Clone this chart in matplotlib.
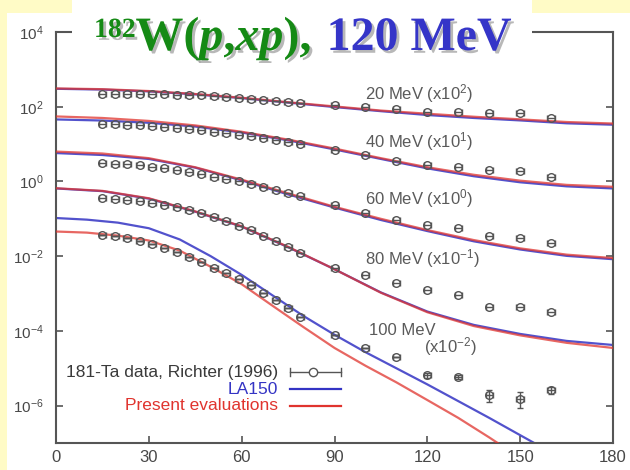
import numpy as np
import matplotlib
matplotlib.use("Agg")
import matplotlib.pyplot as plt
from matplotlib.patches import Rectangle
from matplotlib.ticker import NullLocator
import matplotlib.patheffects as pe

plt.rcParams['font.family'] = ['Liberation Sans', 'DejaVu Sans']
plt.rcParams['mathtext.default'] = 'regular'

# emission angles (deg)
ang_data = [15, 19, 23, 27, 31, 35, 39, 43, 47, 51, 55, 59, 63, 67, 71, 75, 79,
            90, 100, 110, 120, 130, 140, 150, 160]
ang_calc = [0, 15, 30, 45, 60, 75, 90, 105, 120, 135, 150, 165, 180]
ang_calc100 = [0, 10, 20, 30, 40, 50, 60, 70, 80, 90, 100, 110, 120, 130, 140, 150, 160]

# Richter data (already multiplied by the scale factors)
d20 = [224, 224, 219, 219, 214, 214, 209, 204, 200, 191, 182, 174, 162, 151, 141, 132, 126,
       110, 98, 85, 74, 71, 66, 69, 50]
d40 = [34.7, 33.9, 33.1, 31.6, 30.2, 28.8, 26.9, 25.1, 23.4, 21.4, 19.5, 17.8, 16.2, 14.5, 12.9, 11.5, 10.2,
       7.1, 5.2, 3.5, 2.8, 2.4, 2.0, 1.9, 1.35]
d60 = [3.16, 3.02, 2.88, 2.69, 2.51, 2.29, 2.04, 1.82, 1.58, 1.35, 1.17, 1.02, 0.87, 0.72, 0.59, 0.49, 0.40,
       0.24, 0.141, 0.095, 0.069, 0.056, 0.035, 0.030, 0.023]
d80 = [0.355, 0.339, 0.316, 0.295, 0.269, 0.240, 0.209, 0.174, 0.141, 0.112, 0.087, 0.066, 0.049, 0.035,
       0.025, 0.0174, 0.0120, 0.0047, 0.0032, 0.00186, 0.00126, 0.00093, 0.00045, 0.00045, 0.00032]
d100 = [0.037, 0.035, 0.030, 0.0257, 0.0214, 0.0166, 0.0126, 0.0093, 0.0068, 0.0049, 0.0035, 0.0025,
        0.00166, 0.00105, 0.00066, 0.0004, 0.00024, 7.9e-5, 3.4e-5, 2.0e-5, 6.6e-6, 5.9e-6, 1.95e-6,
        1.55e-6, 2.6e-6]
# relative y errors of the 100 MeV set (others are within the symbol)
rel100 = [0, 0, 0, 0, 0, 0, 0, 0, 0, 0, 0, 0, 0, 0, 0, 0, 0,
          0, 0, 0, 0.15, 0.1, 0.35, 0.45, 0.2]

# LA150 (blue) and present evaluation (red)
la20 = [302, 288, 257, 214, 170, 129, 98, 76, 60, 50, 43, 36, 33]
ev20 = [309, 295, 263, 219, 174, 132, 102, 79, 65, 54, 46, 39, 35.5]
la40 = [45.7, 42.7, 37.2, 29.5, 20.4, 12.6, 7.2, 4.0, 2.24, 1.38, 0.95, 0.74, 0.65]
ev40 = [55, 50, 41.7, 31.6, 21.4, 13.2, 7.6, 4.2, 2.4, 1.51, 1.05, 0.81, 0.72]
la60 = [5.75, 5.1, 4.0, 2.34, 1.07, 0.45, 0.20, 0.093, 0.047, 0.025, 0.0151, 0.0102, 0.0083]
ev60 = [6.3, 5.6, 4.2, 2.4, 1.12, 0.48, 0.21, 0.10, 0.050, 0.027, 0.0162, 0.011, 0.0089]
la80 = [0.65, 0.55, 0.347, 0.155, 0.062, 0.0174, 0.00447, 0.00107, 0.00033, 0.000145, 8.3e-5, 5.4e-5, 4.2e-5]
ev80 = [0.66, 0.56, 0.355, 0.158, 0.063, 0.0178, 0.00447, 0.00105, 0.000316, 0.000135, 7.6e-5, 4.8e-5, 3.5e-5]
la100 = [0.105, 0.095, 0.079, 0.056, 0.028, 0.010, 0.00316, 0.00089, 0.00025, 7.9e-5,
         2.7e-5, 1.0e-5, 3.7e-6, 1.32e-6, 4.7e-7, 1.62e-7, 5.6e-8]
ev100 = [0.0457, 0.0427, 0.0355, 0.0263, 0.0141, 0.0052, 0.00178, 0.00047, 0.000126, 3.5e-5,
         1.17e-5, 4.2e-6, 1.41e-6, 4.7e-7, 1.41e-7, 4.0e-8]

series_labels = ["20 MeV (x10$^2$)", "40 MeV (x10$^1$)", "60 MeV (x10$^0$)",
                 "80 MeV (x10$^{-1}$)", "100 MeV"]
legend_labels = ["181-Ta data, Richter (1996)", "LA150", "Present evaluations"]
title_energy = "120 MeV"

W, H = 630, 470
c_red = "#e0342e"
c_blue = "#3434c4"
c_data = "#555555"
c_axis = "#555555"
c_text = "#5a5a5a"

fig = plt.figure(figsize=(W / 100, H / 100), dpi=100)
fig.patch.set_facecolor("#fffbc6")
# white picture area behind the axes
fig.patches.append(Rectangle((7 / W, 0), 1, 1 - 13 / H, transform=fig.transFigure,
                             facecolor="white", edgecolor="none", zorder=-5))

ax_px = (56, 32, 613, 443)  # left, top, right, bottom in pixels
ax = fig.add_axes([ax_px[0] / W, 1 - ax_px[3] / H, (ax_px[2] - ax_px[0]) / W,
                   (ax_px[3] - ax_px[1]) / H])
ax.set_facecolor("none")
ax.set_yscale("log")
ax.set_xlim(0, 180)
ax.set_ylim(1e-7, 1e4)


def afx(px):
    return (px - ax_px[0]) / (ax_px[2] - ax_px[0])


def afy(py):
    return (ax_px[3] - py) / (ax_px[3] - ax_px[1])


calcs = [(ang_calc, la20, ev20), (ang_calc, la40, ev40), (ang_calc, la60, ev60),
         (ang_calc, la80, ev80), (ang_calc100, la100, ev100)]
for ang, la, ev in calcs:
    ax.plot(ang[:len(la)], la, color=c_blue, lw=1.6, alpha=0.85, zorder=2)
    ax.plot(ang[:len(ev)], ev, color=c_red, lw=1.6, alpha=0.75, zorder=3)

for d in [d20, d40, d60, d80]:
    ax.errorbar(ang_data, d, xerr=1.2, fmt='o', ms=5.5, mfc='none', mec=c_data, mew=1.0,
                ecolor=c_data, elinewidth=1.0, capsize=2, zorder=4)
d100 = np.array(d100)
ax.errorbar(ang_data, d100, xerr=1.2, yerr=d100 * np.array(rel100), fmt='o', ms=5.5,
            mfc='none', mec=c_data, mew=1.0, ecolor=c_data, elinewidth=1.0, capsize=2, zorder=4)

# series labels
lab_pos = [(100, 10 ** 2.36), (100, 10 ** 1.07), (100, 10 ** -0.46), (100, 10 ** -2.06),
           (101, 10 ** -4.0)]
for (x, y), s in zip(lab_pos, series_labels):
    ax.text(x, y, s, fontsize=12, color=c_text, va="center", ha="left")
ax.text(119, 10 ** -4.42, "(x10$^{-2}$)", fontsize=12, color=c_text, va="center", ha="left")

# key (gnuplot style: text right-aligned, sample to its right)
key_rows = [372, 389, 406]
key_cols = ["#3a3a3a", c_blue, c_red]
for py, lab, col in zip(key_rows, legend_labels, key_cols):
    ax.text(afx(278), afy(py), lab, transform=ax.transAxes, fontsize=12.5, color=col,
            ha="right", va="center")
ax.plot([afx(290), afx(341)], [afy(key_rows[0])] * 2, transform=ax.transAxes,
        color=c_data, lw=1.0)
for px in (290, 341):
    ax.plot([afx(px)] * 2, [afy(key_rows[0] - 4), afy(key_rows[0] + 4)],
            transform=ax.transAxes, color=c_data, lw=1.0)
ax.plot([afx(313)], [afy(key_rows[0])], 'o', ms=6, mfc='white', mec=c_data, mew=1.0,
        transform=ax.transAxes)
ax.plot([afx(290), afx(341)], [afy(key_rows[1])] * 2, transform=ax.transAxes,
        color=c_blue, lw=1.6)
ax.plot([afx(290), afx(341)], [afy(key_rows[2])] * 2, transform=ax.transAxes,
        color=c_red, lw=1.6)

ax.set_xticks([0, 30, 60, 90, 120, 150, 180])
ax.set_yticks([1e-6, 1e-4, 1e-2, 1e0, 1e2, 1e4])
ax.yaxis.set_minor_locator(NullLocator())
ax.tick_params(axis="both", direction="in", length=5, width=1.2, color=c_axis,
               labelcolor="#484848")
ax.tick_params(axis="y", right=True, pad=9, labelsize=11)
ax.tick_params(axis="x", pad=5, labelsize=12)
for s in ax.spines.values():
    s.set_color(c_axis)
    s.set_linewidth(1.5)

# title box (hides the middle of the top frame) and title
fig.patches.append(Rectangle((72 / W, 1 - 62 / H), 460 / W, 62 / H, transform=fig.transFigure,
                             facecolor="white", edgecolor="none", zorder=5))
renderer = fig.canvas.get_renderer()
shadow = [pe.withSimplePatchShadow(offset=(2, -2), shadow_rgbFace="#9a9a9a", alpha=0.7)]
c_green = "#158a15"
c_tblue = "#3535c8"
pieces = [("182", c_green, "normal", 20, 13),
          ("W(", c_green, "normal", 34.5, 0),
          ("p", c_green, "italic", 34.5, 0),
          (",", c_green, "normal", 34.5, 0),
          ("xp", c_green, "italic", 34.5, 0),
          ("),", c_green, "normal", 34.5, 0),
          (None, None, None, 15, 0),
          (title_energy, c_tblue, "normal", 34.5, 0)]
x = 94
base = H - 50
for txt, col, style, size, rise in pieces:
    if txt is None:
        x += size
        continue
    t = fig.text(x / W, (base + rise) / H, txt, color=col, fontsize=size, fontstyle=style,
                 fontweight="bold", family="Liberation Serif", va="baseline", ha="left",
                 path_effects=shadow, zorder=6)
    x += t.get_window_extent(renderer).width

fig.savefig("out.png", dpi=100, facecolor=fig.get_facecolor())
